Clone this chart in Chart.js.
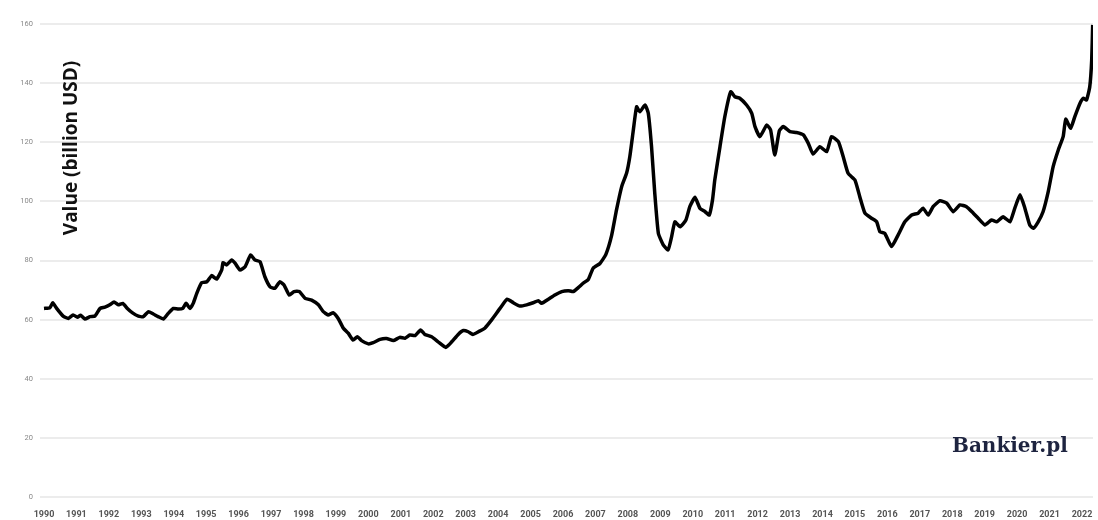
<!DOCTYPE html>
<html>
<head>
<meta charset="utf-8">
<script src="https://cdn.jsdelivr.net/npm/chart.js@4.4.1/dist/chart.umd.min.js"></script>
<style>
  html, body { margin: 0; padding: 0; background: #fff; }
  #wrap { width: 1098px; height: 520px; position: relative; }
</style>
</head>
<body>
<div id="wrap"><canvas id="wykres"></canvas></div>
<script>
// dane (rok dziesiętny -> wartość w mld USD)
const lata = [
  1990.00, 1990.18, 1990.27, 1990.39, 1990.59, 1990.75, 1990.90, 1991.03, 1991.13, 1991.26,
  1991.42, 1991.57, 1991.73, 1991.88, 1992.03, 1992.16, 1992.29, 1992.43, 1992.57, 1992.73,
  1992.91, 1993.06, 1993.22, 1993.37, 1993.52, 1993.68, 1993.83, 1993.99, 1994.14, 1994.28,
  1994.38, 1994.50, 1994.60, 1994.71, 1994.86, 1995.02, 1995.17, 1995.32, 1995.48, 1995.52,
  1995.63, 1995.79, 1995.89, 1996.04, 1996.20, 1996.37, 1996.50, 1996.66, 1996.81, 1996.97,
  1997.12, 1997.27, 1997.40, 1997.56, 1997.71, 1997.87, 1998.05, 1998.25, 1998.46, 1998.61,
  1998.76, 1998.92, 1999.07, 1999.23, 1999.38, 1999.53, 1999.66, 1999.79, 2000.00, 2000.15,
  2000.36, 2000.56, 2000.77, 2000.97, 2001.13, 2001.28, 2001.44, 2001.61, 2001.74, 2001.95,
  2002.15, 2002.39, 2002.57, 2002.77, 2002.93, 2003.08, 2003.22, 2003.39, 2003.59, 2003.80,
  2004.06, 2004.28, 2004.47, 2004.67, 2004.88, 2005.08, 2005.24, 2005.34, 2005.55, 2005.75,
  2005.96, 2006.16, 2006.32, 2006.47, 2006.62, 2006.78, 2006.93, 2007.14, 2007.32, 2007.50,
  2007.65, 2007.81, 2007.96, 2008.06, 2008.17, 2008.27, 2008.37, 2008.53, 2008.63, 2008.73,
  2008.83, 2008.94, 2009.09, 2009.24, 2009.35, 2009.45, 2009.61, 2009.79, 2009.91, 2010.07,
  2010.22, 2010.38, 2010.51, 2010.61, 2010.68, 2010.84, 2010.99, 2011.17, 2011.30, 2011.45,
  2011.66, 2011.82, 2011.92, 2012.07, 2012.28, 2012.40, 2012.53, 2012.67, 2012.79, 2013.00,
  2013.20, 2013.41, 2013.56, 2013.71, 2013.92, 2014.13, 2014.28, 2014.49, 2014.64, 2014.79,
  2015.00, 2015.15, 2015.31, 2015.51, 2015.67, 2015.77, 2015.92, 2016.13, 2016.33, 2016.54,
  2016.75, 2016.95, 2017.10, 2017.26, 2017.41, 2017.62, 2017.83, 2018.03, 2018.24, 2018.44,
  2018.65, 2018.80, 2019.01, 2019.21, 2019.37, 2019.57, 2019.78, 2019.93, 2020.09, 2020.24,
  2020.39, 2020.50, 2020.65, 2020.80, 2020.96, 2021.11, 2021.27, 2021.42, 2021.50, 2021.65,
  2021.78, 2021.94, 2022.04, 2022.14, 2022.24, 2022.30, 2022.33
];

const wartosci = [
  63.8, 64.0, 65.7, 63.8, 61.2, 60.4, 61.6, 60.8, 61.5, 60.2,
  61.0, 61.2, 63.8, 64.2, 65.0, 66.0, 65.0, 65.5, 63.8, 62.3,
  61.2, 61.0, 62.7, 61.9, 61.0, 60.2, 62.1, 63.8, 63.6, 63.8,
  65.5, 63.8, 65.5, 68.9, 72.5, 72.8, 74.9, 73.7, 76.8, 79.3,
  78.5, 80.2, 79.1, 76.8, 77.9, 81.9, 80.2, 79.6, 74.5, 71.1,
  70.6, 72.8, 71.7, 68.3, 69.5, 69.5, 67.2, 66.6, 65.0, 62.7,
  61.6, 62.3, 60.4, 57.1, 55.4, 53.1, 54.2, 52.9, 51.8, 52.2,
  53.3, 53.6, 52.9, 54.0, 53.7, 54.8, 54.6, 56.5, 55.0, 54.2,
  52.5, 50.6, 52.5, 55.0, 56.3, 55.9, 55.0, 55.9, 57.1, 59.9,
  63.8, 66.9, 65.7, 64.6, 65.0, 65.7, 66.4, 65.5, 66.9, 68.3,
  69.5, 69.8, 69.5, 70.8, 72.3, 73.6, 77.4, 79.0, 82.0, 88.5,
  97.1, 105.0, 109.5, 115.1, 124.2, 132.0, 130.3, 132.6, 129.8, 118.5,
  102.7, 89.2, 85.3, 83.6, 88.1, 93.1, 91.4, 93.7, 98.2, 101.4,
  97.7, 96.5, 95.4, 100.5, 107.2, 118.5, 128.7, 137.1, 135.4, 134.9,
  132.6, 129.8, 125.3, 121.9, 125.8, 124.2, 115.7, 123.9, 125.3, 123.6,
  123.3, 122.5, 119.7, 116.0, 118.5, 116.8, 121.9, 120.2, 115.1, 109.5,
  107.2, 101.6, 96.0, 94.3, 93.1, 89.7, 89.2, 84.7, 88.6, 93.1,
  95.4, 96.0, 97.7, 95.4, 98.2, 100.2, 99.4, 96.5, 98.8, 98.2,
  96.0, 94.3, 92.0, 93.7, 93.1, 94.8, 93.1, 97.7, 102.2, 97.7,
  92.0, 90.9, 93.1, 96.5, 103.3, 111.7, 117.4, 121.9, 127.8, 124.7,
  128.7, 133.2, 134.9, 134.3, 138.8, 147.8, 159.7
];

const etykietyLat = [];
for (let r = 1990; r <= 2022; r++) etykietyLat.push(r);

const tytulOsiY = 'Value (billion USD)';
const znakWodny = 'Bankier.pl';

const punkty = lata.map((x, i) => ({ x, y: wartosci[i] }));

// napisy poza osiami: tytuł osi Y i logo
const dodatki = {
  id: 'dodatki',
  afterDraw(chart) {
    const c = chart.ctx;
    c.save();
    c.fillStyle = '#111';
    c.font = 'bold 19px "Open Sans", sans-serif';
    c.textAlign = 'center';
    c.textBaseline = 'middle';
    c.translate(72, 148);
    c.rotate(-Math.PI / 2);
    c.fillText(tytulOsiY, 0, 0);
    c.restore();

    c.save();
    c.fillStyle = '#1e2440';
    c.font = 'bold 20px "DejaVu Serif", serif';
    c.textAlign = 'left';
    c.textBaseline = 'middle';
    c.fillText(znakWodny, 952, 447);
    c.restore();
  }
};

const ctx = document.getElementById('wykres').getContext('2d');
new Chart(ctx, {
  type: 'line',
  data: {
    datasets: [{
      data: punkty,
      borderColor: '#000',
      borderWidth: 3.5,
      pointRadius: 0,
      tension: 0.15,
      fill: false
    }]
  },
  options: {
    responsive: true,
    maintainAspectRatio: false,
    animation: false,
    layout: { padding: { top: 24, right: 5, left: 0, bottom: 0 } },
    plugins: {
      legend: { display: false },
      tooltip: { enabled: false }
    },
    scales: {
      x: {
        type: 'linear',
        min: 1989.877,
        max: 2022.34,
        afterBuildTicks: (axis) => {
          axis.ticks = etykietyLat.map(v => ({ value: v }));
        },
        afterFit: (axis) => { axis.height = 23; },
        grid: { display: false },
        border: { display: false },
        ticks: {
          autoSkip: false,
          maxRotation: 0,
          padding: 4,
          color: '#555',
          font: { family: 'Roboto', size: 9, weight: 'bold' },
          callback: (v) => String(v)
        }
      },
      y: {
        min: 0,
        max: 160,
        afterFit: (axis) => { axis.width = 40; },
        grid: { color: '#ececec', lineWidth: 2, drawTicks: false },
        border: { display: false },
        ticks: {
          stepSize: 20,
          padding: 7,
          color: '#888',
          font: { family: 'Roboto', size: 7.5 }
        }
      }
    }
  },
  plugins: [dodatki]
});
</script>
</body>
</html>
